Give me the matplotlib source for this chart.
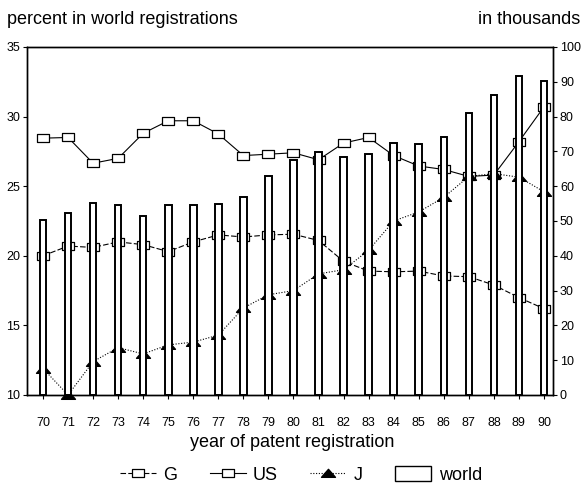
import matplotlib
matplotlib.use("Agg")
import matplotlib.pyplot as plt
from matplotlib.lines import Line2D
from matplotlib.patches import Patch
from matplotlib.path import Path

plt.rcParams['font.family'] = ['Liberation Sans', 'DejaVu Sans']

years = list(range(70, 91))
year_labels = [str(y) for y in years]

# share of world patent registrations, percent
us = [28.45, 28.5, 26.65, 27.0, 28.8, 29.7, 29.7, 28.75, 27.2, 27.3, 27.4,
      26.9, 28.1, 28.5, 27.2, 26.45, 26.2, 25.7, 25.8, 28.2, 30.7]
g = [20.0, 20.7, 20.6, 21.0, 20.8, 20.3, 21.0, 21.5, 21.35, 21.5, 21.55,
     21.1, 19.6, 18.9, 18.85, 18.9, 18.55, 18.5, 17.9, 17.0, 16.2]
j = [11.9, 10.0, 12.4, 13.4, 12.95, 13.6, 13.8, 14.3, 16.25, 17.2, 17.5,
     18.7, 19.0, 20.4, 22.5, 23.15, 24.2, 25.7, 25.9, 25.65, 24.6]

# world registrations, thousands
world = [50.3, 52.2, 55.2, 54.6, 51.4, 54.6, 54.6, 54.9, 56.9, 62.9, 67.5,
         69.8, 68.4, 69.3, 72.4, 72.1, 74.1, 81.0, 86.2, 91.7, 90.2]

# flat box and wide triangle markers
box = Path([(-1, -0.72), (1, -0.72), (1, 0.72), (-1, 0.72), (-1, -0.72)],
           [Path.MOVETO, Path.LINETO, Path.LINETO, Path.LINETO, Path.CLOSEPOLY])
tri = Path([(-1, -0.55), (1, -0.55), (0, 0.6), (-1, -0.55)],
           [Path.MOVETO, Path.LINETO, Path.LINETO, Path.CLOSEPOLY])

g_style = dict(color='black', lw=0.8, ls=(0, (5, 2)), marker=box, ms=8,
               mfc='white', mec='black', mew=0.9)
us_style = dict(color='black', lw=0.8, ls='-', marker=box, ms=8,
                mfc='white', mec='black', mew=0.9)
j_style = dict(color='black', lw=0.8, ls=(0, (1, 1.5)), marker=tri, ms=10,
               mfc='black', mec='black')

fig = plt.figure(figsize=(5.84, 4.88), dpi=100)
ax = fig.add_axes([0.0462, 0.1906, 0.9007, 0.7131])

ax.plot(years, us, clip_on=False, **us_style)
ax.plot(years, g, clip_on=False, **g_style)
ax.plot(years, j, clip_on=False, **j_style)

ax.set_xlim(69.36, 90.36)
ax.set_ylim(10, 35)
ax.set_yticks([10, 15, 20, 25, 30, 35])
ax.set_xticks(years)
ax.set_xticklabels(year_labels)
ax.tick_params(axis='both', labelsize=9, length=3, width=0.8, pad=2)
ax.tick_params(axis='x', pad=13)
for s in ax.spines.values():
    s.set_linewidth(1.0)

# bars sit on the twin axis so their white fill covers the lines
ax2 = ax.twinx()
ax2.bar(years, world, width=0.26, facecolor='white', edgecolor='black',
        linewidth=1.4)
ax2.set_ylim(0, 100)
ax2.set_yticks(range(0, 101, 10))
ax2.tick_params(axis='y', labelsize=9, length=3, width=0.8, pad=2)
for s in ax2.spines.values():
    s.set_linewidth(1.0)

fig.text(0.012, 0.961, 'percent in world registrations', fontsize=13,
         va='center', ha='left')
fig.text(0.994, 0.961, 'in thousands', fontsize=13, va='center', ha='right')
fig.text(0.5, 0.094, 'year of patent registration', fontsize=13,
         va='center', ha='center')

handles = [
    Line2D([], [], **g_style),
    Line2D([], [], **us_style),
    Line2D([], [], **j_style),
    Patch(facecolor='white', edgecolor='black', linewidth=1.0),
]
fig.legend(handles, ['G', 'US', 'J', 'world'], loc='center',
           bbox_to_anchor=(0.515, 0.027), ncol=4, frameon=False, fontsize=13,
           handlelength=2.0, handleheight=0.95, columnspacing=1.8,
           handletextpad=0.4)

fig.savefig('out.png', dpi=100)
